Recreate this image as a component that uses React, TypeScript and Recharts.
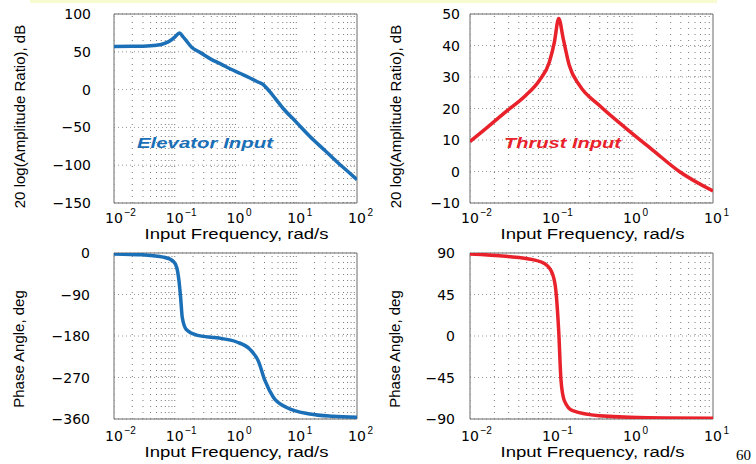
import { LineChart, Line, XAxis, YAxis, CartesianGrid, ReferenceLine, ReferenceArea } from 'recharts'

// elevator input, amplitude ratio (dB) vs input frequency (rad/s)
const elevFreq = [0.01, 0.02, 0.03, 0.05, 0.07, 0.085, 0.1, 0.12, 0.135, 0.15, 0.19, 0.25, 0.38, 0.6, 0.81, 1.2, 1.73, 2.4, 2.87, 3.3, 3.7, 4.5, 6.1, 10, 16.8, 30, 46, 70, 100]
const elevDb = [57, 57.3, 57.5, 58.6, 61.5, 65, 69.5, 75, 70.5, 66, 56, 50, 41, 33, 27.6, 21.3, 15.4, 9.7, 6.6, 1.5, -3, -11.6, -25, -43, -62, -81, -95, -108, -119]

// elevator input, phase angle (deg)
const elevPhFreq = [0.01, 0.03, 0.065, 0.095, 0.108, 0.1175, 0.125, 0.133, 0.155, 0.229, 0.49, 1.05, 1.73, 2.37, 3.06, 4.2, 6.95, 16.8, 40, 100]
const elevPhDeg = [-2, -4, -9, -18, -32, -61, -97, -140, -166, -178, -184, -193, -209, -234, -277, -313, -335, -349, -354, -356]

// thrust input, amplitude ratio (dB)
const thrFreq = [0.01, 0.0158, 0.0278, 0.049, 0.0718, 0.0953, 0.11, 0.1245, 0.142, 0.168, 0.224, 0.394, 0.843, 1.8, 3.84, 10]
const thrDb = [9.5, 13.7, 19, 24.2, 28.9, 34.7, 41, 48.6, 42, 33.7, 27.4, 21, 13.7, 6.8, 0, -6.2]

// thrust input, phase angle (deg)
const thrPhFreq = [0.01, 0.0278, 0.0594, 0.0867, 0.105, 0.115, 0.1245, 0.133, 0.146, 0.185, 0.394, 2.63, 10]
const thrPhDeg = [89, 86.4, 82.8, 77.4, 66.6, 48.6, 5.4, -48.5, -70, -81, -86.4, -89, -89.3]

// axis ticks
const decadesWide = [0.01, 0.1, 1, 10, 100]
const decadesShort = [0.01, 0.1, 1, 10]
const elevDbTicks = [-150, -100, -50, 0, 50, 100]
const thrDbTicks = [-10, 0, 10, 20, 30, 40, 50]
const elevPhTicks = [-360, -270, -180, -90, 0]
const thrPhTicks = [-90, -45, 0, 45, 90]

const BLUE = '#1b6fb6'
const RED = '#e8212b'
const TICK_FONT = 'DejaVu Sans'
const LABEL_FONT = 'Liberation Sans'

const toRows = (xs: number[], ys: number[]) => xs.map((f, i) => ({ f, v: ys[i] }))

// dotted vertical grid at 1..9 x each decade
const minorLines = (lo: number, hi: number) => {
  const out: number[] = []
  for (let d = lo; d < hi; d *= 10) {
    for (let k = 1; k <= 9; k++) out.push(+(k * d).toPrecision(3))
  }
  return out
}

function DecadeTick({ x, y, payload, drop }: any) {
  const exp = Math.round(Math.log10(payload.value))
  const sup = exp < 0 ? `\u2212${-exp}` : `${exp}`
  return (
    <g>
      <text x={x} y={y + drop} textAnchor="middle" fontSize={14} fontFamily={TICK_FONT} fill="#000">10</text>
      <text x={x + 10.5} y={y + drop - 7} fontSize={10} fontFamily={LABEL_FONT} fill="#000">{sup}</text>
    </g>
  )
}

function ValueTick({ x, y, payload, gap }: any) {
  const v = payload.value
  const s = v < 0 ? `\u2212${-v}` : `${v}`
  return (
    <text x={x - gap} y={y + 5} textAnchor="end" fontSize={14} fontFamily={TICK_FONT} fill="#000">{s}</text>
  )
}

function XTitle({ viewBox, title, drop }: any) {
  const cx = viewBox.x + viewBox.width / 2 + 1
  return (
    <text x={cx} y={viewBox.y + drop} textAnchor="middle" fontSize={14} fontFamily={LABEL_FONT}
      textLength={184} lengthAdjust="spacingAndGlyphs" fill="#000">{title}</text>
  )
}

function YTitle({ viewBox, title, centerX, shiftY }: any) {
  const cy = viewBox.y + viewBox.height / 2 + shiftY
  return (
    <text x={centerX} y={cy} transform={`rotate(-90 ${centerX} ${cy})`} textAnchor="middle"
      dominantBaseline="central" fontSize={15} fontFamily={LABEL_FONT} fill="#000">{title}</text>
  )
}

interface PanelProps {
  left: number
  top: number
  height: number
  marginTop: number
  marginRight: number
  axisWidth: number
  axisHeight: number
  tickDrop: number
  titleDrop: number
  freqs: number[]
  values: number[]
  xTicks: number[]
  yTicks: number[]
  color: string
  yTitle: string
  titleX: number
  titleShift: number
  tickGap: number
}

function Panel(p: PanelProps) {
  const data = toRows(p.freqs, p.values)
  const xMin = p.xTicks[0]
  const xMax = p.xTicks[p.xTicks.length - 1]
  const yMin = p.yTicks[0]
  const yMax = p.yTicks[p.yTicks.length - 1]
  return (
    <div style={{ position: 'absolute', left: p.left, top: p.top }}>
      <LineChart width={378} height={p.height} data={data}
        margin={{ top: p.marginTop, right: p.marginRight, bottom: 0, left: 0 }}>
        <CartesianGrid vertical={false} stroke="#9a9a9a" strokeDasharray="1 3" />
        {minorLines(xMin, xMax).map(v => (
          <ReferenceLine key={v} x={v} stroke="#7a7a7a" strokeDasharray="1 5" ifOverflow="hidden" />
        ))}
        <XAxis dataKey="f" type="number" scale="log" domain={[xMin, xMax]} ticks={p.xTicks}
          allowDataOverflow interval={0} height={p.axisHeight} tickSize={0} tickMargin={0}
          axisLine={false} tickLine={false} tick={<DecadeTick drop={p.tickDrop} />}
          label={<XTitle title="Input Frequency, rad/s" drop={p.titleDrop} />} />
        <YAxis type="number" domain={[yMin, yMax]} ticks={p.yTicks} interval={0}
          allowDataOverflow width={p.axisWidth} tickSize={0} tickMargin={0}
          axisLine={false} tickLine={false} tick={<ValueTick gap={p.tickGap} />}
          label={<YTitle title={p.yTitle} centerX={p.titleX} shiftY={p.titleShift} />} />
        <ReferenceArea x1={xMin} x2={xMax} y1={yMin} y2={yMax} fill="none" stroke="#6a6a6a"
          strokeWidth={1} fillOpacity={0} ifOverflow="visible" />
        <Line type="monotone" dataKey="v" stroke={p.color} strokeWidth={3.5} dot={false}
          activeDot={false} isAnimationActive={false} />
      </LineChart>
    </div>
  )
}

export default function App() {
  return (
    <div style={{ position: 'absolute', left: 0, top: 0, width: 756, height: 464, background: '#fff', overflow: 'hidden' }}>
      <div style={{ position: 'absolute', left: 30, top: 0, width: 687, height: 3, background: '#f8fbcf' }} />

      <Panel left={0} top={0} height={244} marginTop={14} marginRight={21} axisWidth={114}
        axisHeight={41} tickDrop={19.5} titleDrop={35.5}
        freqs={elevFreq} values={elevDb} xTicks={decadesWide} yTicks={elevDbTicks} color={BLUE}
        yTitle="20 log(Amplitude Ratio), dB" titleX={19} titleShift={8} tickGap={23} />
      <Panel left={378} top={0} height={244} marginTop={14} marginRight={43} axisWidth={92}
        axisHeight={41} tickDrop={19.5} titleDrop={35.5}
        freqs={thrFreq} values={thrDb} xTicks={decadesShort} yTicks={thrDbTicks} color={RED}
        yTitle="20 log(Amplitude Ratio), dB" titleX={17} titleShift={8} tickGap={10} />
      <Panel left={0} top={240} height={224} marginTop={13} marginRight={21} axisWidth={114}
        axisHeight={45} tickDrop={22} titleDrop={38}
        freqs={elevPhFreq} values={elevPhDeg} xTicks={decadesWide} yTicks={elevPhTicks} color={BLUE}
        yTitle="Phase Angle, deg" titleX={18.5} titleShift={13} tickGap={24} />
      <Panel left={378} top={240} height={224} marginTop={13} marginRight={43} axisWidth={92}
        axisHeight={45} tickDrop={22} titleDrop={38}
        freqs={thrPhFreq} values={thrPhDeg} xTicks={decadesShort} yTicks={thrPhTicks} color={RED}
        yTitle="Phase Angle, deg" titleX={16.5} titleShift={13} tickGap={15} />

      <svg width={756} height={464} style={{ position: 'absolute', left: 0, top: 0, pointerEvents: 'none' }}>
        <text x={137} y={148} fontSize={15} fontWeight="bold" fontStyle="italic" fontFamily={LABEL_FONT}
          fill={BLUE} textLength={136} lengthAdjust="spacingAndGlyphs">Elevator Input</text>
        <text x={504} y={148} fontSize={15} fontWeight="bold" fontStyle="italic" fontFamily={LABEL_FONT}
          fill={RED} textLength={117} lengthAdjust="spacingAndGlyphs">Thrust Input</text>
        <text x={736} y={460} fontSize={15} fontFamily="Liberation Serif" fill="#000">60</text>
      </svg>
    </div>
  )
}
